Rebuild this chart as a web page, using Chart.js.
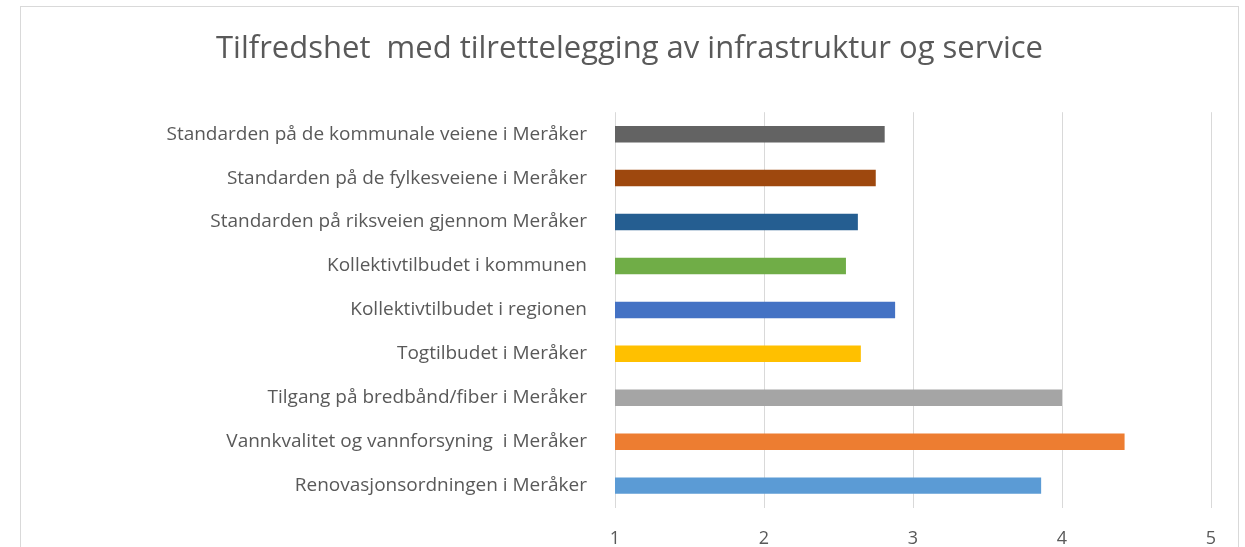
<!DOCTYPE html>
<html>
<head>
<meta charset="utf-8">
<script src="https://cdn.jsdelivr.net/npm/chart.js@4"></script>
<style>
  html, body { margin: 0; padding: 0; background: #fff; overflow: hidden; }
  #frame {
    position: absolute; left: 20px; top: 6px;
    width: 1217px; height: 560px;
    border: 1px solid #d9d9d9;
    overflow: hidden;
  }
  #wrap { position: absolute; left: 0; top: 0; width: 1217px; height: 540px; }
</style>
</head>
<body>
<div id="frame"><div id="wrap"><canvas id="satisfactionChart"></canvas></div></div>
<script>
// Data (top to bottom as shown)
const categories = [
    'Standarden på de kommunale veiene i Meråker',
    'Standarden på de fylkesveiene i Meråker',
    'Standarden på riksveien gjennom Meråker',
    'Kollektivtilbudet i kommunen',
    'Kollektivtilbudet i regionen',
    'Togtilbudet i Meråker',
    'Tilgang på bredbånd/fiber i Meråker',
    'Vannkvalitet og vannforsyning  i Meråker',
    'Renovasjonsordningen i Meråker'
];
const scores = [2.81, 2.75, 2.63, 2.55, 2.88, 2.65, 4.0, 4.42, 3.86];
const barColors = ['#636363', '#9e480e', '#255e91', '#70ad47', '#4472c4', '#ffc000', '#a5a5a5', '#ed7d31', '#5b9bd5'];
const xTicks = [1, 2, 3, 4, 5];

const fontFamily = "'Open Sans', sans-serif";
const textColor = '#595959';

const ctx = document.getElementById('satisfactionChart').getContext('2d');
const satisfactionChart = new Chart(ctx, {
    type: 'bar',
    data: {
        labels: categories,
        datasets: [{
            data: scores,
            backgroundColor: barColors,
            borderWidth: 0,
            barPercentage: 0.375,
            categoryPercentage: 1
        }]
    },
    options: {
        indexAxis: 'y',
        responsive: true,
        maintainAspectRatio: false,
        animation: false,
        // equal side padding keeps the title centred in the frame
        layout: { padding: { left: 27, right: 27, top: 0, bottom: 0 } },
        plugins: {
            legend: { display: false },
            tooltip: { enabled: false },
            title: {
                display: true,
                text: 'Tilfredshet  med tilrettelegging av infrastruktur og service',
                color: textColor,
                font: { family: fontFamily, size: 31, weight: 'normal' },
                padding: { top: 24, bottom: 44 }
            }
        },
        scales: {
            x: {
                min: 1,
                max: 5,
                afterBuildTicks: function(scale) {
                    scale.ticks = xTicks.map(v => ({ value: v }));
                },
                afterFit: function(scale) { scale.height = 39; },
                border: { display: false },
                grid: { color: '#d9d9d9', lineWidth: 1, drawTicks: false },
                ticks: {
                    color: textColor,
                    padding: 20,
                    font: { family: fontFamily, size: 18 }
                }
            },
            y: {
                afterFit: function(scale) { scale.width = 567; },
                border: { display: false },
                grid: { display: false, drawTicks: false },
                ticks: {
                    color: textColor,
                    padding: 28,
                    font: { family: fontFamily, size: 19 }
                }
            }
        }
    }
});
</script>
</body>
</html>
